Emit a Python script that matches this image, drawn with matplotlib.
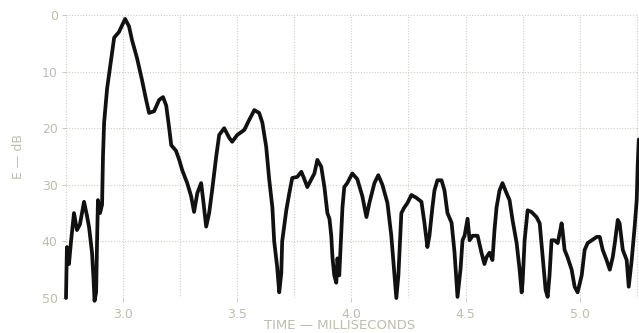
import matplotlib
matplotlib.use("Agg")
import matplotlib.pyplot as plt
from matplotlib.ticker import MultipleLocator, FixedLocator

# Time in milliseconds
time_ms = [
    2.750, 2.754, 2.763, 2.772, 2.785, 2.798, 2.811, 2.829, 2.842, 2.851,
    2.864, 2.871, 2.875, 2.882, 2.886, 2.890, 2.899, 2.908, 2.912, 2.917,
    2.930, 2.947, 2.961, 2.982, 3.009, 3.026, 3.039, 3.061, 3.083, 3.101,
    3.114, 3.136, 3.158, 3.175, 3.189, 3.202, 3.211, 3.232, 3.246, 3.259,
    3.281, 3.298, 3.311, 3.325, 3.342, 3.351, 3.364, 3.377, 3.390, 3.399,
    3.408, 3.421, 3.443, 3.465, 3.478, 3.500, 3.531, 3.553, 3.575, 3.596,
    3.610, 3.627, 3.640, 3.654, 3.662, 3.675, 3.684, 3.693, 3.697, 3.715,
    3.728, 3.741, 3.763, 3.781, 3.794, 3.807, 3.825, 3.838, 3.851, 3.868,
    3.882, 3.895, 3.904, 3.912, 3.917, 3.925, 3.934, 3.939, 3.947, 3.961,
    3.969, 3.982, 4.004, 4.026, 4.048, 4.066, 4.079, 4.101, 4.118, 4.136,
    4.158, 4.175, 4.189, 4.197, 4.206, 4.219, 4.232, 4.246, 4.263, 4.285,
    4.307, 4.320, 4.333, 4.342, 4.355, 4.364, 4.377, 4.395, 4.408, 4.421,
    4.439, 4.452, 4.465, 4.478, 4.487, 4.496, 4.509, 4.518, 4.531, 4.553,
    4.570, 4.583, 4.592, 4.605, 4.618, 4.627, 4.636, 4.649, 4.662, 4.680,
    4.693, 4.706, 4.724, 4.737, 4.746, 4.750, 4.759, 4.772, 4.789, 4.811,
    4.825, 4.838, 4.851, 4.860, 4.868, 4.877, 4.890, 4.904, 4.921, 4.925,
    4.934, 4.947, 4.965, 4.978, 4.991, 5.009, 5.022, 5.035, 5.053, 5.075,
    5.088, 5.101, 5.118, 5.132, 5.145, 5.154, 5.167, 5.175, 5.189, 5.206,
    5.215, 5.228, 5.232, 5.241, 5.250, 5.254, 5.259,
]

# Level below peak, dB
level_db = [
    50, 41, 44, 40, 35, 38, 37, 33, 35.5, 37.5,
    42, 47, 50.5, 49, 40, 32.7, 35, 33.5, 25, 19,
    13, 8, 4, 3, 0.7, 2, 4.4, 7.6, 11.5, 15,
    17.3, 17, 15, 14.5, 16, 20, 23, 24, 25.6, 27.4,
    29.7, 32, 34.8, 31.5, 29.7, 32.7, 37.4, 35, 31, 28,
    25, 21.2, 20, 21.7, 22.4, 21.2, 20.3, 18.5, 16.8, 17.3,
    19, 23.3, 29, 34, 40, 44.5, 49, 45.6, 40, 34.5,
    31.5, 28.8, 28.6, 27.7, 29, 30.4, 29, 28, 25.6, 26.8,
    30.4, 35, 36, 39, 42.7, 46, 47.3, 43, 46, 34,
    30.4, 29.7, 28, 29, 32, 35.7, 33.2, 29.7, 28.3, 30,
    33.2, 39, 46, 50, 46, 35, 34, 33.2, 31.8, 32.3,
    33, 36.7, 41, 39, 34, 31, 29.2, 29.2, 31, 35,
    36.7, 42, 49.8, 45, 39.8, 39, 36, 39.8, 39, 39,
    42, 44, 42.8, 42, 43.3, 38, 34, 31, 29.7, 31.5,
    32.7, 36.2, 40.3, 45, 49, 47.3, 39.8, 34.5, 34.8, 35.7,
    36.8, 42.8, 48.6, 49.8, 46, 39.8, 39.8, 40.3, 36.8, 38,
    41.5, 42.8, 45, 48, 49, 46, 41.5, 40.3, 39.8, 39.2,
    39.2, 41.5, 43.3, 45, 42.8, 40.3, 36.2, 36.8, 41.5, 43.3,
    48, 43.3, 41.5, 37.4, 32.7, 26.8, 22,
]

x_ticks = [3.0, 3.5, 4.0, 4.5, 5.0]
x_tick_labels = ["3.0", "3.5", "4.0", "4.5", "5.0"]
y_ticks = [0, 10, 20, 30, 40, 50]
y_tick_labels = ["0", "10", "20", "30", "40", "50"]

text_color = "#bdbdae"
grid_color = "#cfcfc2"

fig = plt.figure(figsize=(6.39, 3.33), dpi=100)
fig.patch.set_facecolor("white")
ax = fig.add_axes([66 / 639, 35 / 333, 573 / 639, 283 / 333])
ax.set_facecolor("white")

ax.plot(time_ms, level_db, color="#111111", lw=2.7, solid_joinstyle="round",
        solid_capstyle="round", clip_on=False, zorder=3)

ax.set_xlim(2.75, 5.26)
ax.set_ylim(50, 0)

ax.xaxis.set_major_locator(FixedLocator(x_ticks))
ax.set_xticklabels(x_tick_labels)
ax.xaxis.set_minor_locator(MultipleLocator(0.25))
ax.set_yticks(y_ticks)
ax.set_yticklabels(y_tick_labels)

ax.grid(True, which="both", axis="x", color=grid_color, lw=0.8, ls=(0, (1, 1.5)))
ax.grid(True, which="major", axis="y", color=grid_color, lw=0.8, ls=(0, (1, 1.5)))

for s in ax.spines.values():
    s.set_visible(False)

ax.tick_params(axis="both", which="both", colors=text_color, labelcolor=text_color,
               labelsize=9, length=3, width=0.6)
ax.tick_params(axis="x", which="minor", length=0)
ax.tick_params(axis="x", pad=4)
ax.tick_params(axis="y", pad=3)

ax.set_ylabel("E — dB", color=text_color, fontsize=9, labelpad=12)
ax.set_xlabel("TIME — MILLISECONDS", color=text_color, fontsize=9.5, labelpad=2)
ax.xaxis.set_label_coords((340 - 66) / 573, -0.075)

fig.savefig("out.png", dpi=100, facecolor="white")
